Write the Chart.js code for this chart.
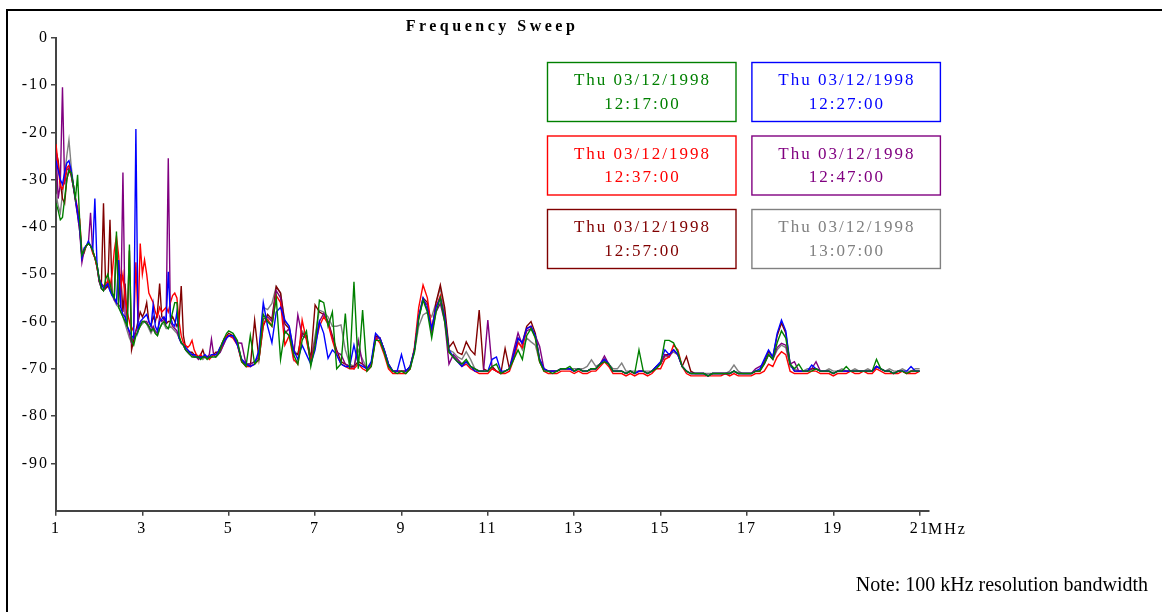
<!DOCTYPE html>
<html>
<head>
<meta charset="utf-8">
<title>Frequency Sweep</title>
<script src="https://cdn.jsdelivr.net/npm/chart.js@4.4.1/dist/chart.umd.min.js"></script>
<style>
  html, body { margin: 0; padding: 0; background: #fff; }
  canvas { display: block; }
</style>
</head>
<body>
<canvas id="sweep" width="1162" height="612"></canvas>
<script>
// sweep grid: 50 kHz steps up to 5 MHz, 100 kHz steps after that
function sweep(start, step, count) {
    var out = []
    for (var i = 0; i < count; i++) out.push(+(start + i * step).toFixed(2))
    return out
}
var freqs = sweep(1, 0.05, 81).concat(sweep(5.1, 0.1, 160))

var xTicks = [1, 3, 5, 7, 9, 11, 13, 15, 17, 19, 21]
var yTicks = [0, -10, -20, -30, -40, -50, -60, -70, -80, -90]

var sweepDates = ['Thu 03/12/1998', 'Thu 03/12/1998', 'Thu 03/12/1998',
                  'Thu 03/12/1998', 'Thu 03/12/1998', 'Thu 03/12/1998']
var sweepTimes = ['12:17:00', '12:27:00', '12:37:00', '12:47:00', '12:57:00', '13:07:00']
var lineColors = ['#008000', '#0000ff', '#ff0000', '#800080', '#800000', '#808080']

// dB readings, 1.00-5.00 MHz (81 pts) then 5.1-21.0 MHz (160 pts)
var green = [
    -35,-36.5,-38.5,-38,-34,-30,-28,-28.5,-31,-34,
    -29,-39,-46,-45,-44,-43.5,-44,-45,-46.5,-48,
    -51,-53,-53.5,-51,-50,-52,-54,-55,-41,-57,
    -58,-59,-60,-61,-43.7,-64,-65,-63,-62,-61,
    -60,-60,-60.5,-61,-62,-61.5,-62.5,-63,-61.5,-60.5,
    -60,-61,-61.5,-60,-58,-56,-56,-63,-64.5,-65,
    -66,-66.5,-67,-67.5,-67.5,-67.5,-67.5,-68,-67.5,-67.5,
    -68,-67.5,-67.5,-67.5,-67.5,-67,-66,-64.5,-63.5,-62.5,
    -62,
    -62.5,-64,-68.5,-69.5,-63,-69,-68,-58.5,-60,-61,
    -55,-68,-62,-63,-67,-69,-64,-62,-69.5,-65,
    -55.5,-56,-61,-58,-70,-69,-58.3,-70,-51.6,-70,
    -57.6,-70.5,-69.5,-64,-64,-66.5,-69.5,-70.5,-71,-70.5,
    -71,-70,-66.5,-59.5,-55.5,-58,-63.5,-58,-55,-60,
    -66.5,-67.5,-68.5,-69,-68,-69.5,-70,-70.5,-70.5,-70.5,
    -69.5,-69,-71,-70.5,-70,-68,-66,-68,-63,-61.5,
    -63.5,-68.5,-70.5,-70.5,-71,-70.5,-70,-70,-69.5,-70.5,
    -70,-70.5,-70.5,-70,-70,-69,-68.5,-69,-70.5,-70.5,
    -70.5,-71,-70.5,-71,-66,-70.5,-71,-70.5,-70,-69,
    -64,-64,-64.5,-66.5,-69.5,-70.5,-71,-71,-71,-71,
    -71.5,-71,-71,-71,-71,-71,-70.5,-71,-71,-71,
    -71,-70.5,-70.5,-69,-67,-68,-64.5,-62,-63.5,-69,
    -70,-69,-70.5,-70.5,-70.5,-70,-70.5,-70.5,-70.5,-71,
    -70.5,-70.5,-69.5,-70.5,-70.5,-70.5,-70.5,-70.5,-70.5,-68,
    -70,-70.5,-70.5,-71,-70.5,-70.5,-71,-70.5,-70.5,-70.5
]
var blue = [
    -26,-28,-30,-31,-28.5,-26.5,-26,-28,-31,-34,
    -37,-40,-46.5,-44.5,-44,-43,-44,-45,-34,-48,
    -51,-52,-53,-52.5,-52,-53.5,-54.5,-55,-56,-47,
    -57,-58.5,-59,-61,-62,-63,-63.5,-19.3,-62,-60,
    -59.5,-59,-58.5,-60,-61,-56.5,-61,-62,-60,-59.5,
    -59,-60,-49.5,-59,-60.5,-61,-58,-63.5,-64.5,-65,
    -65.5,-66,-66.5,-67,-67,-67.5,-67.5,-67.5,-67.5,-67,
    -67.5,-67.5,-67,-67,-67,-66.5,-65.5,-65,-64,-63.5,
    -63,
    -63,-65,-68,-69,-69.5,-69,-66,-56,-61,-64.5,
    -58,-57,-59.7,-61,-66,-68,-65,-67,-69,-66,
    -60,-62.5,-67.8,-66,-67,-69,-69.5,-69.5,-65,-69,
    -69.5,-70,-68.5,-62.5,-63.5,-66,-69,-70.5,-70.5,-67,
    -70.5,-69.5,-66,-59,-55,-57.5,-61.5,-57,-55,-59,
    -66,-67.5,-68.5,-69.5,-68.5,-69.5,-70.5,-70.5,-70.5,-70.5,
    -68,-67.5,-70.5,-70.5,-70,-67,-63.5,-64.5,-61.5,-61,
    -63,-68,-70,-70.5,-70.5,-70.5,-70,-70,-70,-70.5,
    -70,-70.5,-70.5,-70,-70,-69,-68,-69,-70.5,-70.5,
    -70.5,-71,-70.5,-71,-70.5,-70.5,-71,-70.5,-69.5,-68.5,
    -66,-67,-66,-67,-69.5,-70.5,-71,-71,-71,-71,
    -71.5,-71,-71,-71,-71,-71,-70.5,-71,-71,-71,
    -71,-70.5,-70,-68,-66,-67.5,-62.5,-59.7,-62,-69,
    -70.5,-70.5,-70.5,-70.5,-69.2,-70,-70.5,-70.5,-70.5,-71,
    -70.5,-70.5,-70.5,-70.5,-70.5,-70.5,-70.5,-70.5,-70.5,-69.5,
    -70,-70.5,-70.5,-71,-70.5,-70.5,-70.5,-69.5,-70.5,-70.5
]
var red = [
    -22.5,-27,-31.5,-32,-30,-27.5,-27,-28.5,-31,-34,
    -36,-38.5,-45.5,-45,-44,-43.5,-44,-45.5,-46.5,-48.5,
    -51,-52,-52.5,-52,-51.5,-52.5,-50,-45,-42,-46,
    -53,-50,-55,-58,-60,-62,-61,-47.5,-60,-43.5,
    -50,-47,-50,-54,-55,-56,-58,-59,-57,-58,
    -57.5,-57,-58,-56,-54.5,-54,-55,-60,-63,-64.5,
    -65,-65.5,-65,-64,-66,-67,-67.5,-67,-67.5,-67.5,
    -67.5,-68,-67.5,-67,-67,-66.5,-66,-65,-64,-63,
    -63,
    -63.5,-65,-68.5,-69.5,-69.5,-69,-68,-60.5,-59.5,-61,
    -54.5,-56,-65,-63,-68,-69,-59.7,-64,-68.5,-65,
    -61,-59,-60.5,-64,-67,-69,-69.5,-70,-70,-69,
    -70,-70.5,-69.5,-63.5,-64.5,-67,-70,-71,-71,-71,
    -71,-70,-65.5,-57,-52.3,-55,-61.5,-57,-54.5,-59,
    -66.5,-67.5,-68.5,-69.5,-69,-70,-70.5,-71,-71,-71,
    -70,-70.5,-71,-71,-70.5,-68,-64.5,-65.5,-61.5,-61,
    -63.5,-68.5,-70.5,-71,-71,-71,-70.5,-70.5,-70.5,-71,
    -70.5,-71,-71,-70.5,-70.5,-69.5,-68.5,-69.5,-71,-71,
    -71,-71.5,-71,-71.5,-71,-71,-71.5,-71,-70,-70,
    -68,-67.5,-65,-66,-69.5,-71,-71.5,-71.5,-71.5,-71.5,
    -71.5,-71.5,-71.5,-71.5,-71,-71.5,-71,-71.5,-71.5,-71.5,
    -71.5,-71,-71,-70.5,-69,-69.5,-67.5,-66.4,-67,-70.5,
    -71,-71,-71,-71,-70.5,-70.5,-71,-71,-71,-71.5,
    -71,-71,-71,-70.5,-71,-71,-70.5,-71,-71,-70,
    -70.5,-71,-71,-71,-71,-70.5,-71,-71,-71,-70.5
]
var purple = [
    -24,-34,-31,-10.5,-31,-28,-27.5,-29,-31.5,-34.5,
    -37.5,-41,-47.5,-45,-44,-43.5,-37,-45.5,-46.5,-48,
    -51.5,-53,-53.5,-52.5,-52,-53,-54,-55.5,-56,-56.5,
    -57,-28.5,-59,-61,-62.5,-64.5,-63,-62,-61,-60.5,
    -60,-60,-60,-61,-62,-61,-62,-62.5,-59,-60,
    -59.5,-60,-25.5,-60,-61,-61.5,-62,-63.5,-64.5,-65,
    -66,-66.5,-67,-67,-67.5,-67.5,-68,-67.5,-67.5,-67.5,
    -67.5,-67,-63.7,-67,-67.5,-67,-66.5,-65.5,-64.5,-63.5,
    -63,
    -63,-64.5,-64.6,-69,-69,-68.5,-67.5,-59.5,-59,-60,
    -53.5,-55,-62.5,-61.5,-67.5,-58.6,-63,-63.5,-68.5,-64,
    -60,-58.3,-60,-63.5,-66.5,-67,-69,-69.5,-70,-64,
    -69,-70,-69,-63.5,-63.5,-66,-69.5,-70.5,-70.5,-70.5,
    -70.5,-70,-66,-59,-55.5,-56.5,-62.5,-58,-56.2,-60,
    -69,-67,-68,-69,-68.5,-69.5,-70,-70.5,-70.5,-59.7,
    -70,-70.5,-71,-70.5,-70,-66,-62.4,-65,-62,-61.5,
    -63,-65.3,-70,-70.5,-70.5,-70.5,-70,-70,-70,-70.5,
    -70,-70.5,-70.5,-70,-70,-69,-67.3,-69,-70.5,-70.5,
    -70.5,-71,-70.5,-71,-70.5,-70.5,-71,-70.5,-69.5,-69,
    -67,-67.5,-66,-67,-69.5,-70.5,-71,-71,-71,-71,
    -71.5,-71,-71,-71,-71,-71,-70.5,-71,-71,-71,
    -71,-70,-69.5,-69,-67,-68,-65.5,-64.6,-65,-69,
    -68.5,-70.5,-70.5,-70.5,-70,-68.5,-70.5,-70.5,-70.5,-71,
    -70.5,-70.5,-70.5,-70.5,-70.5,-70.5,-70.5,-70.5,-70.5,-69.5,
    -70,-70.5,-70.5,-71,-70.5,-70.5,-71,-70.5,-70.5,-70.5
]
var maroon = [
    -24,-26,-30.5,-34,-35,-30,-28,-29,-31.5,-34,
    -37,-40,-46.5,-45.5,-44,-43.5,-44,-45,-46.5,-48.5,
    -51.5,-52.5,-35,-53,-52.5,-38.5,-54,-55,-43,-56,
    -50,-58,-52,-60,-45,-66,-64,-62,-60,-58,
    -59,-58,-56,-60,-61,-59,-60,-58,-52,-59,
    -59.5,-60.5,-60,-60,-59,-60,-61,-60,-52.5,-63,
    -65.5,-66,-66.5,-66.5,-67,-67,-67.5,-67,-66,-67.5,
    -67.5,-67.5,-67,-67,-66.5,-66.5,-65.5,-64.5,-63.5,-63,
    -62.5,
    -63,-64.5,-68.5,-69,-69.5,-59.7,-68,-61,-58.5,-59.5,
    -52.6,-54,-60.5,-61.5,-66.5,-67,-62.5,-63,-68,-56.5,
    -58,-58.5,-60,-63,-66,-68.5,-69,-69.5,-69.5,-68.5,
    -69,-70,-69,-63,-63.5,-66,-69,-70.5,-70.5,-70.5,
    -70.5,-69.5,-66,-59,-55,-56,-62.5,-56,-52.3,-57,
    -65.5,-64.3,-66.5,-67,-64.3,-66,-67,-57.6,-70,-70.5,
    -69.5,-70.5,-71,-65.7,-70,-67,-63.5,-64.5,-61,-60,
    -62.5,-68,-70,-70.5,-70.5,-70.5,-70,-70,-70,-70.5,
    -70,-70.5,-70.5,-70,-70,-69,-68,-69,-70.5,-70.5,
    -70.5,-71,-70.5,-71,-70.5,-70.5,-71,-70.5,-69.5,-69,
    -67,-67,-66,-67,-69.5,-67.4,-70.5,-71,-71,-71,
    -71.5,-71,-71,-71,-71,-71,-70.5,-71,-71,-71,
    -71,-70.5,-70.5,-68.5,-66.3,-67.5,-63,-60.3,-62.5,-69,
    -70.5,-70.5,-70.5,-70.5,-70,-70,-70.5,-70.5,-70.5,-71,
    -70.5,-70.5,-70.5,-70.5,-70.5,-70.5,-70.5,-70.5,-70.5,-69.5,
    -70,-70.5,-70.5,-71,-70.5,-70.5,-71,-70.5,-70.5,-70.5
]
var gray = [
    -33,-35.5,-37,-33,-29,-25,-21.6,-27,-31,-34.5,
    -37.5,-41,-46,-45,-44,-43.5,-44,-45,-46.5,-48.5,
    -51.5,-53,-53.5,-53,-52.5,-53.5,-54.5,-55.5,-56.5,-57,
    -58,-59,-60.5,-62,-63.5,-64.5,-64,-63,-62,-61,
    -60.5,-60,-60.5,-61.5,-62.5,-61.5,-62.5,-63,-61.5,-60.5,
    -60.5,-61.5,-61.5,-61,-61.5,-62,-62.5,-63.5,-64.5,-65,
    -66,-66.5,-67,-67,-67.5,-67.5,-67.5,-67.5,-68,-67.5,
    -67.5,-67.5,-67.5,-67,-67.5,-67,-66.5,-65.5,-64.5,-63.5,
    -63,
    -63,-64.5,-68,-69,-69,-68.5,-67,-57,-57.5,-56.2,
    -52.6,-54,-60,-61,-66,-67,-62,-63,-68,-63,
    -57.6,-58,-59,-61,-61,-60.7,-66,-69,-69.5,-66,
    -68,-70,-69,-63.5,-63.5,-66,-69,-70.5,-70.5,-70.5,
    -70.5,-69.5,-66.5,-61,-58.6,-58,-59,-56,-53,-58,
    -66,-66.5,-67.5,-68,-66.4,-68,-70,-70.5,-70.5,-70.5,
    -69.5,-70.5,-71,-70.5,-70,-67,-64,-66,-63.5,-64.3,
    -65,-68.5,-70,-70.5,-70.5,-70.5,-70,-70,-70,-70,
    -70,-70,-69.5,-68.1,-69.5,-69,-68,-69,-70,-70,
    -68.8,-70.5,-70.5,-70.5,-70.5,-70.5,-70.5,-70.5,-69.5,-68.8,
    -67.5,-67,-66.5,-67,-69.5,-70.5,-71,-71,-71,-71,
    -71,-71,-71,-71,-71,-70.5,-69.2,-70.5,-71,-71,
    -71,-70.5,-70.5,-69,-67,-68,-66,-65,-65.5,-69.5,
    -70,-70.5,-70.5,-70,-70,-70,-70.5,-70.5,-70,-70.5,
    -70.5,-70,-70.5,-70.5,-70,-70.5,-70.5,-70,-70.5,-69.5,
    -70,-70.5,-70,-70.5,-70.5,-70,-70.5,-70.5,-70,-70
]

var series = [green, blue, red, purple, maroon, gray]
var serif = '"Liberation Serif", "Times New Roman", serif'

series.forEach(function (s, i) {
    if (s.length != freqs.length) console.log('series ' + i + ' has ' + s.length + ' points')
})

var datasets = series.map(function (vals, i) {
    return {
        label: sweepDates[i] + ' ' + sweepTimes[i],
        data: vals.map(function (v, j) { return { x: freqs[j], y: v } }),
        borderColor: lineColors[i],
        borderWidth: 1.4,
        pointRadius: 0,
        tension: 0,
        fill: false
    }
})

// frame, title, boxed legend, unit and note
var decor = {
    id: 'decor',
    beforeDraw: function (chart) {
        chart.ctx.letterSpacing = '2px'
    },
    afterDraw: function (chart) {
        var ctx = chart.ctx
        ctx.save()
        ctx.letterSpacing = '0px'

        ctx.strokeStyle = '#000'
        ctx.lineWidth = 2
        ctx.beginPath()
        ctx.moveTo(7, 620)
        ctx.lineTo(7, 10)
        ctx.lineTo(1170, 10)
        ctx.stroke()

        ctx.fillStyle = '#000'
        ctx.font = 'bold 16px ' + serif
        ctx.letterSpacing = '3.5px'
        ctx.textAlign = 'center'
        ctx.textBaseline = 'alphabetic'
        ctx.fillText('Frequency Sweep', 492, 30.5)

        ctx.font = '17px ' + serif
        ctx.letterSpacing = '2px'
        for (var i = 0; i < series.length; i++) {
            var bx = 547.5 + (i % 2) * 204.4
            var by = 62.5 + Math.floor(i / 2) * 73.5
            ctx.strokeStyle = lineColors[i]
            ctx.lineWidth = 1.4
            ctx.strokeRect(bx, by, 188.5, 59)
            ctx.fillStyle = lineColors[i]
            ctx.fillText(sweepDates[i], bx + 95, by + 22.5)
            ctx.fillText(sweepTimes[i], bx + 95, by + 46)
        }

        ctx.fillStyle = '#000'
        ctx.font = '16px ' + serif
        ctx.textAlign = 'left'
        ctx.fillText('MHz', 928, 534)

        ctx.font = '20px ' + serif
        ctx.letterSpacing = '0px'
        ctx.textAlign = 'right'
        ctx.fillText('Note: 100 kHz resolution bandwidth', 1148, 591)
        ctx.restore()
    }
}

var ctx = document.getElementById('sweep').getContext('2d')
var myChart = new Chart(ctx, {
    type: 'line',
    data: { datasets: datasets },
    options: {
        responsive: false,
        animation: false,
        events: [],
        layout: { padding: { left: 0, right: 233.7, top: 37.7, bottom: 0 } },
        plugins: {
            legend: { display: false },
            tooltip: { enabled: false },
            title: { display: false }
        },
        scales: {
            x: {
                type: 'linear',
                min: 1,
                max: 21.2,
                afterBuildTicks: function (s) { s.ticks = xTicks.map(function (v) { return { value: v } }) },
                afterFit: function (s) { s.height = 101.3 },
                ticks: { color: '#000', font: { family: serif, size: 16 }, padding: 3, maxRotation: 0, autoSkip: false },
                grid: { drawOnChartArea: false, drawTicks: true, tickLength: 5, tickColor: '#444', lineWidth: 1.5 },
                border: { display: true, color: '#444', width: 2 }
            },
            y: {
                type: 'linear',
                min: -100,
                max: 0,
                afterBuildTicks: function (s) { s.ticks = yTicks.map(function (v) { return { value: v } }) },
                afterFit: function (s) { s.width = 56 },
                ticks: { color: '#000', font: { family: serif, size: 16 }, padding: 2, autoSkip: false },
                grid: { drawOnChartArea: false, drawTicks: true, tickLength: 5, tickColor: '#444', lineWidth: 1.5 },
                border: { display: true, color: '#444', width: 2 }
            }
        }
    },
    plugins: [decor]
})
</script>
</body>
</html>
